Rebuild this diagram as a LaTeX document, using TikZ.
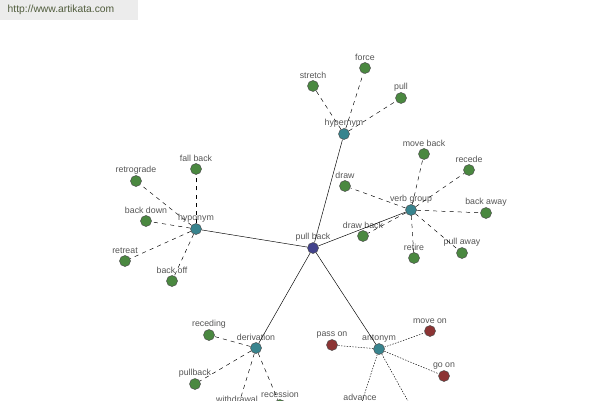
\documentclass[tikz,border=0pt]{standalone}
\usepackage{fontspec}
\setmainfont{Liberation Sans}
\usetikzlibrary{positioning}

\definecolor{leafgreen}{RGB}{74,136,64}
\definecolor{relteal}{RGB}{56,132,142}
\definecolor{rootblue}{RGB}{66,66,140}
\definecolor{antred}{RGB}{140,52,52}
\definecolor{labelgray}{RGB}{85,85,85}
\definecolor{headgray}{RGB}{236,236,236}
\definecolor{headtext}{RGB}{80,92,60}

\begin{document}
\begin{tikzpicture}[x=0.03cm,y=-0.03cm,
        dot/.style={circle,draw=black!70,thin,minimum size=0.33cm,inner sep=0pt,
            label={[labelgray,font=\fontsize{7.5}{8}\selectfont,inner sep=1pt,label distance=0pt]above:#1}},
        word/.style={dot=#1,fill=leafgreen},
        relation/.style={dot=#1,fill=relteal},
        opposite/.style={dot=#1,fill=antred},
        root/.style={dot=#1,fill=rootblue},
        main/.style={thin,black},
        link/.style={thin,black,dash pattern=on 3.5pt off 3.5pt},
        antilink/.style={thin,black,dash pattern=on 1.2pt off 1.2pt},
    ]
        \useasboundingbox (0,0) rectangle (600,400);
        \clip (0,0) rectangle (600,400);

        % header
        \fill[headgray] (0,0) rectangle (138,20);
        \node[headtext,font=\fontsize{8.8}{9}\selectfont] (site) at (61,10) {http://www.artikata.com};

        % centre and relations
        \node[root=pull back]        (pullback)   at (313,248) {};
        \node[relation=hypernym]     (hypernym)   at (344,134) {};
        \node[relation=verb group]   (verbgroup)  at (411,210) {};
        \node[relation=hyponym]      (hyponym)    at (196,229) {};
        \node[relation=derivation]   (derivation) at (256,348) {};
        \node[relation=antonym]      (antonym)    at (379,349) {};

        % hypernym
        \node[word=stretch]  (stretch) at (313,86) {};
        \node[word=force]    (force)   at (365,68) {};
        \node[word=pull]     (pull)    at (401,98) {};

        % verb group
        \node[word=move back] (moveback)  at (424,154) {};
        \node[word=recede]    (recede)    at (469,170) {};
        \node[word=back away] (backaway)  at (486,213) {};
        \node[word=pull away] (pullaway)  at (462,253) {};
        \node[word=retire]    (retire)    at (414,258) {};
        \node[word=draw back] (drawback)  at (363,236) {};
        \node[word=draw]      (draw)      at (345,186) {};

        % hyponym
        \node[word=fall back]  (fallback)  at (196,169) {};
        \node[word=retrograde] (retrograde) at (136,181) {};
        \node[word=back down]  (backdown)  at (146,221) {};
        \node[word=retreat]    (retreat)   at (125,261) {};
        \node[word=back off]   (backoff)   at (172,281) {};

        % derivation
        \node[word=receding]   (receding)   at (209,335) {};
        \node[word=pullback]   (pullbackn)  at (195,384) {};
        \node[word=withdrawal] (withdrawal) at (237,410) {};
        \node[word=recession]  (recession)  at (280,405) {};

        % antonym
        \node[opposite=pass on] (passon)  at (332,345) {};
        \node[opposite=move on] (moveon)  at (430,331) {};
        \node[opposite=go on]   (goon)    at (444,376) {};
        \node[opposite=advance] (advance) at (360,408) {};
        \node[opposite=]        (further) at (414,412) {};

        % connectors
        \draw[main] (pullback) -- (hypernym);
        \draw[main] (pullback) -- (verbgroup);
        \draw[main] (pullback) -- (hyponym);
        \draw[main] (pullback) -- (derivation);
        \draw[main] (pullback) -- (antonym);

        \foreach \leaf in {stretch,force,pull}
            \draw[link] (hypernym) -- (\leaf);
        \foreach \leaf in {moveback,recede,backaway,pullaway,retire,drawback,draw}
            \draw[link] (verbgroup) -- (\leaf);
        \foreach \leaf in {fallback,retrograde,backdown,retreat,backoff}
            \draw[link] (hyponym) -- (\leaf);
        \foreach \leaf in {receding,pullbackn,withdrawal,recession}
            \draw[link] (derivation) -- (\leaf);
        \foreach \leaf in {passon,moveon,goon,advance,further}
            \draw[antilink] (antonym) -- (\leaf);
    \end{tikzpicture}
\end{document}
